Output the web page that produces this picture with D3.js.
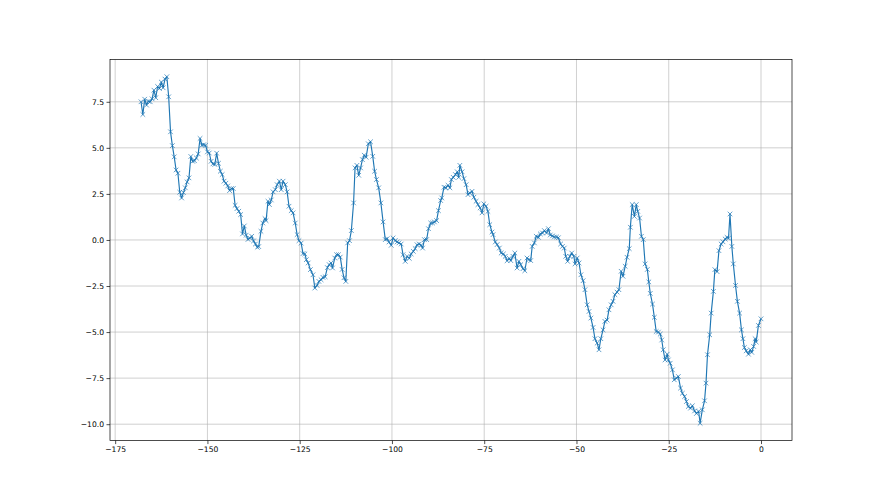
<!DOCTYPE html>
<html>
<head>
<meta charset="utf-8">
<script src="https://cdn.jsdelivr.net/npm/d3@7"></script>
<style>
  html, body { margin: 0; padding: 0; background: #fff; }
  svg { display: block; }
  .tick text { font-family: "DejaVu Sans", sans-serif; font-size: 7.6px; fill: #000; }
</style>
</head>
<body>
<svg id="chart" width="880" height="495"></svg>
<script>
const xValues = [
-168.0,-167.5,-167.0,-166.5,-166.0,-165.5,-165.0,-164.5,-164.0,-163.5,-163.0,-162.5,-162.0,-161.5,-161.0,-160.5,-160.0,-159.5,-159.0,-158.5,-158.0,-157.5,-157.0,-156.5,-156.0,-155.5,-155.0,-154.5,-154.0,-153.5,-153.0,-152.5,-152.0,-151.5,-151.0,-150.5,-150.0,-149.5,-149.0,-148.5,-148.0,-147.5,-147.0,-146.5,-146.0,-145.5,-145.0,-144.5,-144.0,-143.5,-143.0,-142.5,-142.0,-141.5,-141.0,-140.5,-140.0,-139.5,-139.0,-138.5,-138.0,-137.5,-137.0,-136.5,
-136.1,-135.5,-135.0,-134.4,-134.1,-133.6,-133.2,-132.7,-132.2,-131.6,-131.1,-130.5,-130.0,-129.5,-128.9,-128.4,-127.9,-127.3,-126.8,-126.2,-125.7,-125.2,-124.6,-124.1,-123.6,-123.2,-122.7,-122.1,-121.4,-120.9,-120.3,-119.8,-119.2,-118.7,-118.1,-117.5,-117.0,-116.5,-116.1,-115.5,-115.0,-114.5,
-114.0,-113.5,-113.0,-112.5,-112.0,-111.5,-111.0,-110.4,-110.0,-109.5,-109.0,-108.5,-108.0,-107.5,-107.0,-106.4,-105.8,-105.2,-104.7,-104.2,-103.6,-103.0,-102.4,-101.8,
-101.3,-100.8,-100.2,-99.7,-99.1,-98.6,-98.1,-97.5,-97.0,-96.4,-95.9,-95.3,-94.8,-94.2,-93.7,-93.2,-92.6,-92.1,-91.7,-91.2,-90.6,-90.1,-89.5,-89.0,-88.5,-87.9,-87.4,-86.8,-86.5,-85.9,-85.4,-84.8,-84.3,-83.9,-83.4,-82.8,-82.3,-81.9,-81.6,-81.0,-80.5,-79.9,-79.4,-78.9,-78.3,-77.8,-77.2,-76.7,-76.1,-75.6,-75.1,-74.5,-74.0,-73.5,-72.9,-72.6,-72.0,-71.5,-70.9,-70.4,-69.8,-69.3,-68.8,-68.2,
-67.8,-67.2,-66.7,-66.1,-65.6,-65.1,-64.5,-64.0,-63.4,-62.9,-62.4,-62.0,-61.4,-60.9,-60.3,-59.8,-59.2,-58.7,-58.1,-57.6,-57.1,-56.5,-56.0,-55.4,-54.9,-54.3,-53.8,-53.3,-52.9,-52.4,-51.8,-51.3,-50.7,-50.4,-49.8,-49.3,-48.8,-48.2,-47.7,-47.1,-46.6,-46.1,-45.5,-45.0,-44.4,-43.9,-43.4,-42.8,-42.3,-41.7,-41.2,-40.6,-40.1,-39.6,-39.0,-38.5,-37.9,-37.4,-36.8,-36.3,-35.7,-35.4,-34.9,-34.3,-33.8,-33.4,-32.9,-32.4,-31.9,-31.4,
-30.8,-30.4,-30.0,-29.4,-28.9,-28.4,-27.8,-27.3,-26.9,-26.5,-26.0,-25.4,-25.1,-24.6,-24.0,-23.5,-22.9,-22.4,-21.8,-21.3,-20.7,-20.2,-19.7,-19.1,-18.6,-18.0,-17.5,-16.9,-16.5,-15.9,-15.3,-14.9,-14.5,-13.9,-13.5,-12.9,-12.5,-11.9,-11.4,-10.8,-10.3,-9.7,-9.2,-8.8,-8.4,-7.9,-7.5,-6.9,-6.4,-5.8,-5.3,-4.9,-4.5,-4.0,-3.4,-2.9,-2.5,-2.0,-1.6,-1.3,-0.7,0.0
];
const yValues = [
7.50,6.81,7.64,7.32,7.53,7.50,7.66,8.13,7.72,8.33,8.22,8.57,8.26,8.73,8.86,7.77,5.87,5.12,4.51,3.80,3.62,2.59,2.28,2.57,2.83,3.15,3.37,4.53,4.27,4.30,4.45,4.67,5.51,5.14,5.17,5.14,4.78,4.72,4.27,4.13,4.10,4.71,4.16,3.73,3.55,3.19,3.08,2.93,2.68,2.79,2.79,1.88,1.70,1.56,1.38,0.33,0.76,0.26,0.03,0.10,0.20,-0.05,-0.22,-0.40,
-0.36,0.47,0.92,1.16,1.05,2.10,1.92,2.17,2.61,2.73,3.00,3.19,2.73,3.19,3.00,2.61,1.83,1.59,1.47,0.92,0.29,-0.04,-0.17,-0.74,-0.76,-1.07,-1.25,-1.61,-1.89,-2.61,-2.47,-2.25,-2.16,-2.03,-2.00,-1.50,-1.34,-1.25,-1.52,-0.98,-0.80,-0.80,
-0.93,-1.60,-2.05,-2.25,-0.16,-0.04,0.51,2.01,3.91,4.05,3.51,3.91,4.36,4.60,4.49,5.22,5.33,4.54,3.73,3.28,2.83,2.01,0.98,0.02,
0.07,-0.11,-0.29,0.11,-0.03,-0.11,-0.16,-0.22,-0.80,-1.16,-0.89,-1.00,-0.76,-0.62,-0.47,-0.26,-0.22,-0.29,-0.44,0.02,0.02,0.61,0.92,0.92,0.98,1.05,1.59,2.14,2.28,2.86,2.83,2.97,2.83,3.28,3.40,3.55,3.70,3.40,4.05,3.70,3.33,3.00,2.46,2.55,2.64,2.32,2.10,1.92,1.74,1.47,1.96,1.83,1.55,0.83,0.43,0.29,-0.11,-0.25,-0.44,-0.71,-0.76,-0.89,-1.13,-1.00,
-1.12,-0.89,-0.71,-1.52,-1.16,-1.34,-1.56,-1.67,-0.98,-1.07,-1.12,-0.35,-0.16,0.20,0.14,0.33,0.38,0.51,0.38,0.61,0.27,0.22,0.16,0.16,0.12,-0.22,-0.35,-0.44,-0.89,-1.16,-0.89,-0.71,-0.89,-1.30,-0.98,-1.25,-1.89,-2.21,-2.70,-3.52,-3.88,-4.24,-4.75,-5.36,-5.60,-5.96,-5.36,-4.88,-4.42,-4.35,-3.79,-3.52,-3.33,-2.97,-2.83,-2.70,-1.70,-1.97,-1.43,-0.94,-0.47,0.69,1.92,1.28,1.92,1.55,1.19,0.20,0.02,-1.30,
-1.60,-2.28,-2.90,-3.48,-4.20,-4.97,-5.00,-5.11,-5.43,-5.96,-6.51,-6.20,-6.51,-6.69,-7.05,-7.59,-7.50,-7.41,-8.04,-8.32,-8.50,-8.77,-9.04,-9.13,-9.00,-9.28,-9.42,-9.30,-9.95,-9.22,-8.73,-7.77,-6.23,-5.15,-3.97,-2.79,-1.61,-1.72,-0.58,-0.22,-0.10,0.05,0.14,0.10,1.41,-0.35,-1.30,-2.47,-3.33,-3.97,-4.88,-5.36,-5.84,-6.02,-6.20,-5.96,-6.10,-5.78,-5.36,-5.54,-4.64,-4.28
];
const xTicks = [-175, -150, -125, -100, -75, -50, -25, 0];
const yTicks = [-10, -7.5, -5, -2.5, 0, 2.5, 5, 7.5];

const data = xValues.map((v, i) => ({x: v, y: yValues[i]}));

const svg = d3.select("#chart");
const plotL = 110, plotR = 792, plotT = 59.4, plotB = 440.6;
const color = "#1f77b4";

const xMin = d3.min(xValues), xMax = d3.max(xValues);
const yMin = d3.min(yValues), yMax = d3.max(yValues);
const xPad = (xMax - xMin) * 0.05, yPad = (yMax - yMin) * 0.05;

const xScale = d3.scaleLinear().domain([xMin - xPad, xMax + xPad]).range([plotL, plotR]);
const yScale = d3.scaleLinear().domain([yMin - yPad, yMax + yPad]).range([plotB, plotT]);

// grid
const grid = svg.append("g");
grid.selectAll("line.gx").data(xTicks).join("line").attr("class", "gx")
  .attr("x1", d => xScale(d)).attr("x2", d => xScale(d))
  .attr("y1", plotT).attr("y2", plotB)
  .attr("stroke", "#b0b0b0").attr("stroke-width", 0.6);
grid.selectAll("line.gy").data(yTicks).join("line").attr("class", "gy")
  .attr("y1", d => yScale(d)).attr("y2", d => yScale(d))
  .attr("x1", plotL).attr("x2", plotR)
  .attr("stroke", "#b0b0b0").attr("stroke-width", 0.6);

// line
const line = d3.line().x(d => xScale(d.x)).y(d => yScale(d.y));
svg.append("path").datum(data)
  .attr("d", line)
  .attr("fill", "none")
  .attr("stroke", color)
  .attr("stroke-width", 1.15)
  .attr("stroke-linejoin", "round");

// markers
const ms = 2.3;
svg.append("g").selectAll("path").data(data).join("path")
  .attr("d", d => {
    const cx = xScale(d.x), cy = yScale(d.y);
    return `M${cx-ms},${cy-ms}L${cx+ms},${cy+ms}M${cx-ms},${cy+ms}L${cx+ms},${cy-ms}`;
  })
  .attr("stroke", color)
  .attr("stroke-width", 0.7)
  .attr("fill", "none");

// axes
const xAxis = d3.axisBottom(xScale).tickValues(xTicks).tickSize(3.5).tickPadding(2.5)
  .tickFormat(d3.format("d"));
const yAxis = d3.axisLeft(yScale).tickValues(yTicks).tickSize(3.5).tickPadding(2.5)
  .tickFormat(d3.format(".1f"));

const gx = svg.append("g").attr("transform", `translate(0,${plotB})`).call(xAxis);
const gy = svg.append("g").attr("transform", `translate(${plotL},0)`).call(yAxis);
[gx, gy].forEach(g => {
  g.select(".domain").remove();
  g.selectAll(".tick line").attr("stroke", "#000").attr("stroke-width", 0.7);
});

// spines
svg.append("rect")
  .attr("x", plotL).attr("y", plotT)
  .attr("width", plotR - plotL).attr("height", plotB - plotT)
  .attr("fill", "none").attr("stroke", "#000").attr("stroke-width", 0.7);
</script>
</body>
</html>
